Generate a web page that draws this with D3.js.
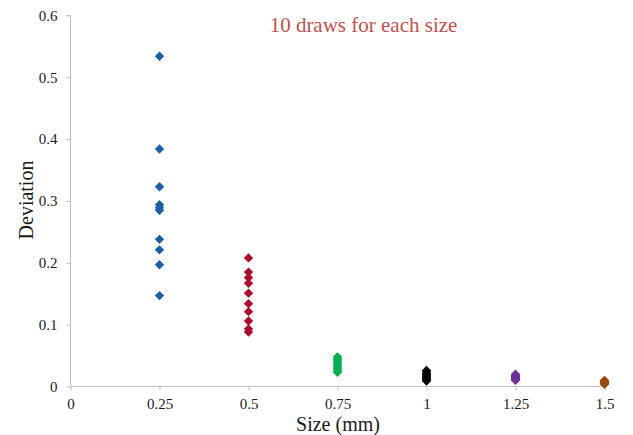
<!DOCTYPE html>
<html>
<head>
<meta charset="utf-8">
<script src="https://cdn.jsdelivr.net/npm/d3@7"></script>
<style>
  html, body { margin: 0; padding: 0; background: #fff; }
  svg { display: block; }
</style>
</head>
<body>
<svg id="chart" width="633" height="435"></svg>
<script>
// Sizes (mm) and ten deviation draws for each size
const sizes = [0.25, 0.5, 0.75, 1, 1.25, 1.5];
const colors = ["#1b5fa6", "#b10a2e", "#00b050", "#000000", "#7030a0", "#9c4a0c"];
const draws025 = [0.534, 0.384, 0.323, 0.294, 0.289, 0.285, 0.238, 0.221, 0.197, 0.147];
const draws050 = [0.208, 0.185, 0.176, 0.167, 0.151, 0.134, 0.121, 0.106, 0.093, 0.088];
const draws075 = [0.048, 0.045, 0.043, 0.040, 0.038, 0.035, 0.032, 0.029, 0.026, 0.023];
const draws100 = [0.026, 0.024, 0.021, 0.019, 0.017, 0.015, 0.014, 0.012, 0.011, 0.009];
const draws125 = [0.020, 0.018, 0.017, 0.016, 0.015, 0.014, 0.013, 0.012, 0.011, 0.010];
const draws150 = [0.010, 0.009, 0.008, 0.007, 0.006, 0.006, 0.005, 0.005, 0.004, 0.004];
const xTicks = [0, 0.25, 0.5, 0.75, 1, 1.25, 1.5];
const xTickLabels = ["0", "0.25", "0.5", "0.75", "1", "1.25", "1.5"];
const yTicks = [0, 0.1, 0.2, 0.3, 0.4, 0.5, 0.6];
const yTickLabels = ["0", "0.1", "0.2", "0.3", "0.4", "0.5", "0.6"];
const title = "10 draws for each size";
const xTitle = "Size (mm)";
const yTitle = "Deviation";

const serif = "Liberation Serif";

const series = [draws025, draws050, draws075, draws100, draws125, draws150]
  .map((vals, i) => ({ size: sizes[i], color: colors[i], vals }));

const svg = d3.select("#chart");
const x = d3.scaleLinear().domain([0, 1.5]).range([70.5, 604.5]);
const y = d3.scaleLinear().domain([0, 0.6]).range([386.5, 15.5]);
const axisColor = "#bfbfbf";

function styleTicks(g) {
  g.attr("font-family", serif).attr("font-size", 15);
  g.selectAll(".tick line").attr("stroke", axisColor);
  g.selectAll(".tick text").attr("fill", "#1a1a1a");
}

// Y axis
const yAxis = d3.axisLeft(y).tickValues(yTicks)
  .tickFormat((d, i) => yTickLabels[i]).tickSize(4).tickPadding(9);
const gy = svg.append("g").attr("transform", "translate(70.5,0)").call(yAxis);
gy.select(".domain").attr("stroke", axisColor).attr("d", `M-4,${y(0.6)}H0V${y(0)}`);
styleTicks(gy);

// X axis
const xAxis = d3.axisBottom(x).tickValues(xTicks)
  .tickFormat((d, i) => xTickLabels[i]).tickSize(4).tickPadding(8);
const gx = svg.append("g").attr("transform", "translate(0,386.5)").call(xAxis);
gx.select(".domain").attr("stroke", axisColor).attr("d", `M${x(0)},0H${x(1.5)}`);
styleTicks(gx);

// Diamond marker, equal width and height
const diamond = {
  draw(ctx, size) {
    const r = Math.sqrt(size / 2);
    ctx.moveTo(0, -r); ctx.lineTo(r, 0); ctx.lineTo(0, r); ctx.lineTo(-r, 0); ctx.closePath();
  }
};
const sym = d3.symbol().type(diamond).size(44);

const groups = svg.append("g").selectAll("g").data(series).join("g")
  .attr("fill", d => d.color);
groups.selectAll("path").data(d => d.vals.map(v => ({ size: d.size, v }))).join("path")
  .attr("d", sym)
  .attr("transform", d => `translate(${x(d.size)},${y(d.v)})`);

// Titles
svg.append("text").attr("x", 363.5).attr("y", 32).attr("text-anchor", "middle")
  .attr("font-family", serif).attr("font-size", 21)
  .attr("fill", "#c0504d").text(title);
svg.append("text").attr("x", 338).attr("y", 431).attr("text-anchor", "middle")
  .attr("font-family", serif).attr("font-size", 20)
  .attr("fill", "#1a1a1a").text(xTitle);
svg.append("text").attr("transform", "translate(33,200) rotate(-90)").attr("text-anchor", "middle")
  .attr("font-family", serif).attr("font-size", 20)
  .attr("fill", "#1a1a1a").text(yTitle);
</script>
</body>
</html>
